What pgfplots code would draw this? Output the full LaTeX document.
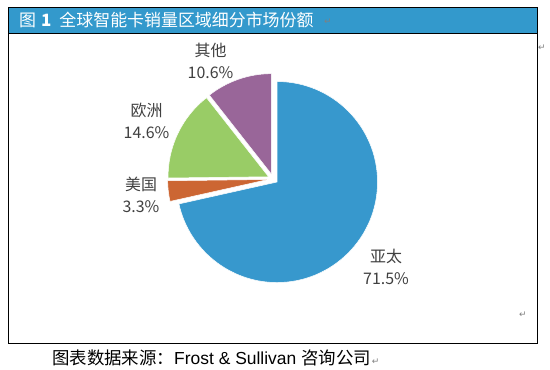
\documentclass[border=0pt]{standalone}
\usepackage{fontspec}
\setmainfont{Liberation Sans}
\newfontfamily\cjk{Noto Sans CJK SC}
\newfontfamily\dejavu{DejaVu Sans}
\usepackage{pgfplots}
\usepackage{pgfplotstable}
\pgfplotsset{compat=1.18}
\definecolor{cBar}{HTML}{3399CC}
\definecolor{cBlue}{HTML}{3798CD}
\definecolor{cOrange}{HTML}{CC6633}
\definecolor{cGreen}{HTML}{99CC66}
\definecolor{cPurple}{HTML}{996699}
\definecolor{cText}{HTML}{404040}
\definecolor{cMark}{HTML}{808080}

% pie data: share in percent, clockwise from 12 o'clock
\pgfplotstableread[col sep=comma]{
name,value,color
亚太,71.5,cBlue
美国,3.3,cOrange
欧洲,14.6,cGreen
其他,10.6,cPurple
}\piedata

\def\cx{273.1}
\def\cy{178.9}
\def\rad{100.5bp}
\def\expl{5bp}

\gdef\cumangle{90}
\gdef\slicecmds{}
\pgfplotsforeachungrouped \i in {0,...,3}{%
  \pgfplotstablegetelem{\i}{value}\of\piedata \let\val\pgfplotsretval
  \pgfplotstablegetelem{\i}{color}\of\piedata \let\col\pgfplotsretval
  \pgfmathsetmacro\sa{\cumangle}%
  \pgfmathsetmacro\sb{\cumangle-3.6*\val}%
  \pgfmathsetmacro\sm{(\sa+\sb)/2}%
  \xdef\slicecmds{\slicecmds
    \noexpand\fill[\col, draw=white, line width=0.5pt]
      ([shift={(\sm:\expl)}]axis cs:\cx,\cy) -- ++(\sa:\rad)
      arc[start angle=\sa, end angle=\sb, radius=\rad] -- cycle;}%
  \xdef\cumangle{\sb}%
}

\begin{document}
\begin{tikzpicture}
\begin{axis}[
  scale only axis, width=550bp, height=369bp,
  xmin=0, xmax=550, ymin=0, ymax=369, y dir=reverse,
  hide axis, clip=false,
]
\fill[white] (axis cs:0,0) rectangle (axis cs:550,369);
% frame and title bar
\fill[cBar] (axis cs:8,7.5) rectangle (axis cs:537,33);
\draw[black, line width=1bp] (axis cs:8,7.5) rectangle (axis cs:537,343.8);
\draw[black, line width=0.8bp] (axis cs:8,33.3) -- (axis cs:537,33.3);
\node[anchor=west, white, inner sep=0pt, font=\cjk\fontsize{17}{20}\selectfont] at (axis cs:19,20.5)
  {图\hspace{5bp}{\bfseries 1}\hspace{8bp}全球智能卡销量区域细分市场份额};
\node[anchor=west, cMark, inner sep=0pt, font=\dejavu\fontsize{9}{9}\selectfont] at (axis cs:324,22) {↵};
\node[anchor=west, cMark, inner sep=0pt, font=\dejavu\fontsize{9}{9}\selectfont] at (axis cs:538,48) {↵};
\node[anchor=west, cMark, inner sep=0pt, font=\dejavu\fontsize{9}{9}\selectfont] at (axis cs:519,315) {↵};

% pie
\slicecmds

% labels
\begin{scope}[every node/.style={align=center, text=cText, inner sep=0pt,
    font=\cjk\fontsize{16}{22}\selectfont}]
\node at (axis cs:210.5,61) {其他\\10.6\%};
\node at (axis cs:146.5,121) {欧洲\\14.6\%};
\node at (axis cs:141,194.5) {美国\\3.3\%};
\node at (axis cs:386,266.5) {亚太\\71.5\%};
\end{scope}

% footer
\node[anchor=west, inner sep=0pt, font=\fontsize{17.5}{20}\selectfont] at (axis cs:52,357.5)
  {{\cjk 图表数据来源：}Frost \& Sullivan {\cjk 咨询公司}\hspace{1bp}{\dejavu\color{cMark}\fontsize{9}{9}\selectfont ↵}};
\end{axis}
\end{tikzpicture}
\end{document}
